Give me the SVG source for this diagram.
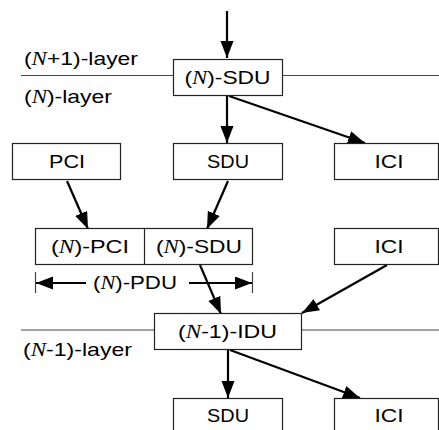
<svg xmlns="http://www.w3.org/2000/svg" width="439" height="430" viewBox="0 0 439 430">
<style>
.box{fill:#fff;stroke:#222;stroke-width:1.2}
.layer{stroke:#444;stroke-width:1.2;fill:none}
.t{font-family:"Liberation Sans",Arial,sans-serif;font-size:19px;fill:#000}
.c{text-anchor:middle}
.n{font-family:"Liberation Serif","Times New Roman",serif;font-style:italic}
.arr{stroke:#000;stroke-width:2.2;fill:none;marker-end:url(#ah)}
</style>
<defs>
<marker id="ah" markerUnits="userSpaceOnUse" markerWidth="18" markerHeight="14" refX="17" refY="6.5" orient="auto">
<path d="M0,0 L17,6.5 L0,13 Z" fill="#000"/>
</marker>
</defs>
<rect width="439" height="430" fill="#fff"/>
<g id="layers">
<line class="layer" x1="21" y1="75.5" x2="173" y2="75.5"/>
<line class="layer" x1="283" y1="75.5" x2="439" y2="75.5"/>
<line class="layer" x1="21" y1="330" x2="154" y2="330"/>
<line class="layer" x1="302" y1="330" x2="439" y2="330"/>
<text class="t" x="24" y="65" textLength="114" lengthAdjust="spacingAndGlyphs">(<tspan class="n">N</tspan>+1)-layer</text>
<text class="t" x="24" y="103" textLength="88" lengthAdjust="spacingAndGlyphs">(<tspan class="n">N</tspan>)-layer</text>
<text class="t" x="23" y="356" textLength="109" lengthAdjust="spacingAndGlyphs">(<tspan class="n">N</tspan>-1)-layer</text>
</g>
<g id="connectors">
<line class="arr" x1="227" y1="11" x2="227" y2="58"/>
<line class="arr" x1="227" y1="96" x2="227" y2="143"/>
<line class="arr" x1="229" y1="96" x2="365" y2="143"/>
<line class="arr" x1="67" y1="181" x2="88" y2="229"/>
<line class="arr" x1="228" y1="181" x2="207" y2="229"/>
<line class="arr" x1="200" y1="265" x2="221" y2="314"/>
<line class="arr" x1="387" y1="265" x2="302" y2="313"/>
<line class="arr" x1="228" y1="350" x2="228" y2="398"/>
<line class="arr" x1="230" y1="350" x2="360" y2="398"/>
<line class="arr" x1="86" y1="283" x2="36" y2="283"/>
<line class="arr" x1="189" y1="283" x2="252" y2="283"/>
<line class="layer" x1="35.5" y1="272" x2="35.5" y2="293"/>
<line class="layer" x1="252.5" y1="272" x2="252.5" y2="293"/>
</g>
<g id="n-sdu-top">
<rect class="box" x="173.5" y="59.5" width="109" height="36"/>
<text class="t c" x="227.5" y="83.5" textLength="86" lengthAdjust="spacingAndGlyphs">(<tspan class="n">N</tspan>)-SDU</text>
</g>
<g id="pci">
<rect class="box" x="12.5" y="143.5" width="108" height="36"/>
<text class="t c" x="67" y="167.5" textLength="36" lengthAdjust="spacingAndGlyphs">PCI</text>
</g>
<g id="sdu1">
<rect class="box" x="173.5" y="143.5" width="109" height="36"/>
<text class="t c" x="228" y="167.5" textLength="42" lengthAdjust="spacingAndGlyphs">SDU</text>
</g>
<g id="ici1">
<rect class="box" x="334.5" y="143.5" width="104" height="36"/>
<text class="t c" x="389" y="167.5" textLength="29" lengthAdjust="spacingAndGlyphs">ICI</text>
</g>
<g id="n-pdu">
<rect class="box" x="35.5" y="228.5" width="217" height="36"/>
<line class="box" x1="144.5" y1="228.5" x2="144.5" y2="264.5"/>
<text class="t c" x="90" y="252.5" textLength="78" lengthAdjust="spacingAndGlyphs">(<tspan class="n">N</tspan>)-PCI</text>
<text class="t c" x="199" y="252.5" textLength="86" lengthAdjust="spacingAndGlyphs">(<tspan class="n">N</tspan>)-SDU</text>
</g>
<g id="pdu-label">
<text class="t c" x="135" y="289" textLength="84" lengthAdjust="spacingAndGlyphs">(<tspan class="n">N</tspan>)-PDU</text>
</g>
<g id="ici2">
<rect class="box" x="334.5" y="228.5" width="104" height="36"/>
<text class="t c" x="389" y="252.5" textLength="29" lengthAdjust="spacingAndGlyphs">ICI</text>
</g>
<g id="idu">
<rect class="box" x="154.5" y="313.5" width="147" height="36"/>
<text class="t c" x="227.5" y="337.5" textLength="99" lengthAdjust="spacingAndGlyphs">(<tspan class="n">N</tspan>-1)-IDU</text>
</g>
<g id="sdu2">
<rect class="box" x="173.5" y="398.5" width="109" height="40"/>
<text class="t c" x="228" y="422" textLength="42" lengthAdjust="spacingAndGlyphs">SDU</text>
</g>
<g id="ici3">
<rect class="box" x="334.5" y="398.5" width="104" height="40"/>
<text class="t c" x="389" y="422" textLength="29" lengthAdjust="spacingAndGlyphs">ICI</text>
</g>
</svg>
